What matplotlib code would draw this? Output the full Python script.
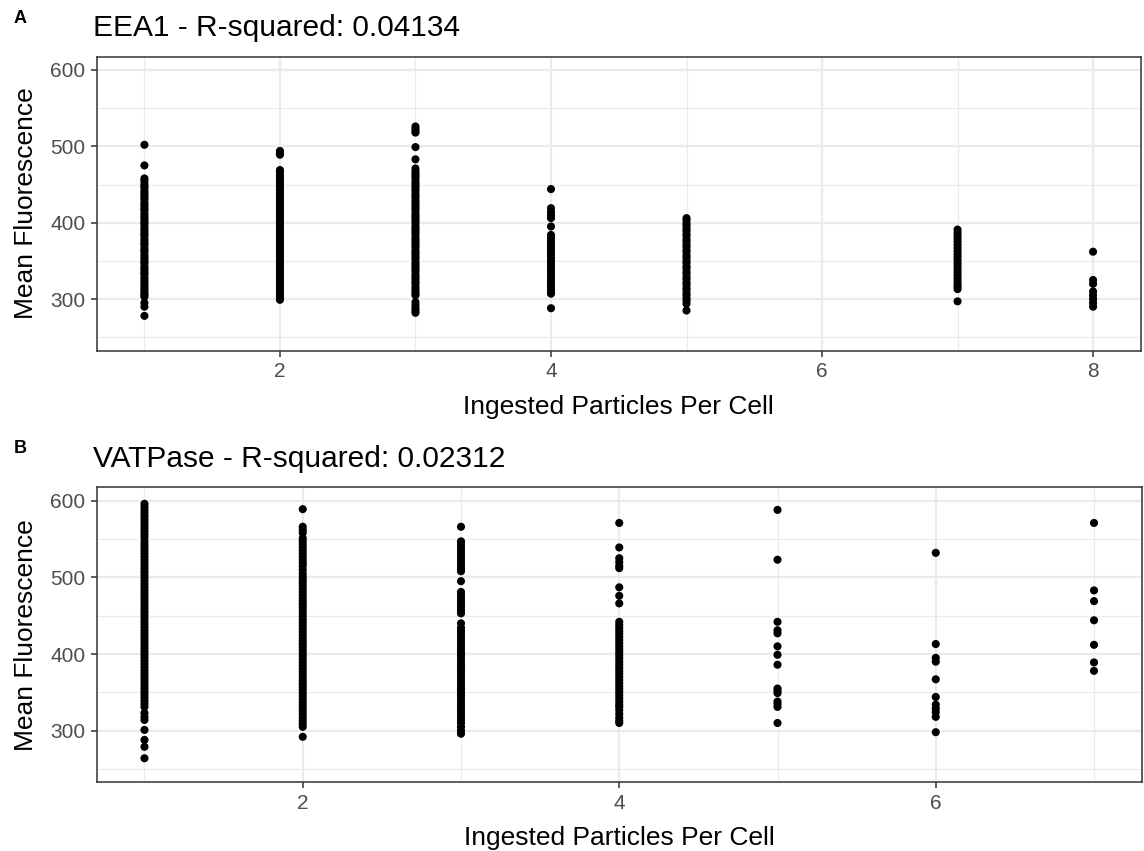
import matplotlib
matplotlib.use('Agg')
from matplotlib import pyplot as plt
from matplotlib.ticker import MultipleLocator
import numpy as np

plt.rcParams['font.family'] = ['Liberation Sans', 'DejaVu Sans']

# Panel A - EEA1
eea1_x = [1, 2, 3, 4, 5, 7, 8]
eea1_y = [
    [502, 475, 458, 455, 451, 448, 446, 442, 439, 436, 433, 431, 427, 424, 421, 418, 416,
     412, 409, 406, 403, 400, 398, 394, 391, 388, 385, 383, 379, 376, 373, 371, 367,
     364, 362, 358, 355, 352, 349, 347, 343, 340, 337, 334, 332, 328, 325, 322, 319,
     316, 313, 310, 307, 305, 303, 295, 290, 278],
    [494, 491, 489, 469, 466, 463, 460, 457, 454, 451, 448, 445, 442, 439, 436, 433,
     430, 427, 424, 421, 418, 415, 412, 409, 406, 403, 400, 397, 394, 391, 388, 385,
     382, 379, 376, 373, 370, 367, 364, 361, 358, 355, 352, 349, 346, 343, 340, 337,
     334, 331, 328, 325, 322, 319, 316, 313, 310, 307, 304, 301, 299],
    [526, 523, 520, 518, 499, 483, 471, 467, 464, 461, 458, 454, 451, 448, 445, 442,
     438, 435, 432, 428, 425, 422, 419, 416, 412, 409, 406, 403, 400, 396, 393, 390,
     387, 384, 380, 377, 374, 371, 368, 364, 361, 358, 355, 352, 348, 345, 342, 339,
     336, 332, 329, 326, 323, 320, 316, 313, 310, 307, 305, 296, 292, 288, 285, 282],
    [444, 419, 414, 410, 406, 395, 384, 380, 376, 372, 369, 365, 361, 358, 354, 350,
     346, 342, 339, 335, 331, 327, 324, 320, 316, 312, 309, 307, 288],
    [406, 403, 399, 396, 392, 389, 385, 382, 378, 375, 371, 368, 364, 361, 357, 354,
     350, 347, 343, 340, 336, 333, 329, 326, 322, 319, 315, 312, 308, 305, 301, 298,
     294, 285],
    [391, 387, 383, 379, 375, 371, 367, 363, 359, 355, 351, 347, 343, 339, 335, 331,
     327, 323, 319, 316, 313, 297],
    [362, 325, 320, 310, 305, 300, 295, 290],
]

# Panel B - VATPase
vat_x = [1, 2, 3, 4, 5, 6, 7]
vat_y = [
    [596, 592, 588, 584, 580, 576, 572, 568, 564, 560, 556, 552, 547, 543, 539, 535,
     531, 527, 523, 519, 515, 511, 507, 503, 499, 495, 491, 487, 483, 479, 475, 471,
     467, 463, 459, 455, 451, 447, 443, 439, 435, 431, 427, 423, 419, 415, 411, 407,
     403, 399, 395, 391, 387, 383, 379, 375, 371, 367, 363, 359, 355, 351, 347, 343,
     339, 335, 331, 323, 318, 314, 301, 288, 279, 264],
    [589, 566, 562, 558, 551, 547, 543, 539, 535, 531, 527, 523, 519, 515, 510, 505,
     501, 497, 493, 489, 485, 481, 477, 473, 469, 465, 461, 457, 453, 449, 445, 441,
     437, 433, 429, 425, 421, 417, 413, 409, 405, 401, 397, 393, 389, 385, 381, 377,
     373, 369, 365, 361, 357, 353, 349, 345, 341, 337, 333, 329, 325, 321, 317, 313,
     309, 305, 292],
    [566, 547, 543, 539, 535, 531, 527, 523, 519, 515, 511, 508, 495, 481, 477, 473,
     469, 465, 461, 457, 453, 440, 434, 430, 426, 422, 418, 414, 410, 406, 402, 398,
     394, 390, 386, 382, 378, 374, 370, 366, 362, 358, 354, 350, 346, 342, 338, 334,
     330, 326, 322, 318, 314, 310, 305, 300, 296],
    [571, 539, 525, 520, 515, 512, 487, 476, 466, 442, 438, 434, 430, 426, 422, 418,
     414, 410, 406, 402, 398, 394, 390, 386, 382, 378, 374, 370, 366, 362, 358, 354,
     350, 346, 342, 338, 334, 331, 327, 322, 317, 313, 310],
    [588, 523, 442, 431, 427, 410, 399, 386, 355, 352, 349, 338, 335, 331, 310],
    [532, 413, 395, 390, 367, 344, 334, 329, 324, 318, 298],
    [571, 483, 469, 444, 412, 389, 378],
]

titles = ['EEA1 - R-squared: 0.04134', 'VATPase - R-squared: 0.02312']
tags = ['A', 'B']
x_label = 'Ingested Particles Per Cell'
y_label = 'Mean Fluorescence'

W, H = 1144, 851
fig = plt.figure(figsize=(W / 100, H / 100), dpi=100)

# panel boxes in pixels: left, top, right, bottom
boxes = [(97, 56.6, 1140.5, 350.6), (97, 487.3, 1141.5, 782.4)]
datasets = [(eea1_x, eea1_y), (vat_x, vat_y)]
title_base = [36, 467]
tag_y = [23, 453]

grid_col = '#EBEBEB'
dark = '#333333'
tick_txt = '#4D4D4D'

for i, ((l, t, r, b), (xs, ys)) in enumerate(zip(boxes, datasets)):
    ax = fig.add_axes([l / W, 1 - b / H, (r - l) / W, (b - t) / H])
    px = np.concatenate([[x] * len(v) for x, v in zip(xs, ys)])
    py = np.concatenate(ys)
    ax.scatter(px, py, s=34, color='black', edgecolors='none', zorder=3)

    xmin, xmax = min(xs), max(xs)
    pad = (xmax - xmin) * 0.05
    ax.set_xlim(xmin - pad, xmax + pad)
    ax.set_ylim(250 - 17.5, 600 + 17.5)

    ax.xaxis.set_major_locator(MultipleLocator(2))
    ax.xaxis.set_minor_locator(MultipleLocator(1))
    ax.yaxis.set_major_locator(MultipleLocator(100))
    ax.yaxis.set_minor_locator(MultipleLocator(50))
    ax.grid(True, which='major', color=grid_col, linewidth=1.6, zorder=0)
    ax.grid(True, which='minor', color=grid_col, linewidth=0.8, zorder=0)
    ax.set_axisbelow(True)

    ax.tick_params(which='major', length=4.5, width=1.1, color=dark,
                   labelsize=15, labelcolor=tick_txt, pad=4)
    ax.tick_params(which='minor', length=0)
    for s in ax.spines.values():
        s.set_color(dark)
        s.set_linewidth(1.1)
    ax.set_yticks([300, 400, 500, 600])

    cx = (l + r) / 2
    fig.text(cx / W, 1 - (b + 63) / H, x_label, fontsize=19, ha='center',
             va='baseline', color='black')
    fig.text(26 / W, 1 - ((t + b) / 2) / H, y_label, fontsize=19, rotation=90,
             ha='center', va='center', color='black')
    fig.text(93 / W, 1 - title_base[i] / H, titles[i], fontsize=21.5, ha='left',
             va='baseline', color='black')
    fig.text(14 / W, 1 - tag_y[i] / H, tags[i], fontsize=13, fontweight='bold',
             ha='left', va='baseline', color='black')

fig.savefig('out.png', dpi=100)
